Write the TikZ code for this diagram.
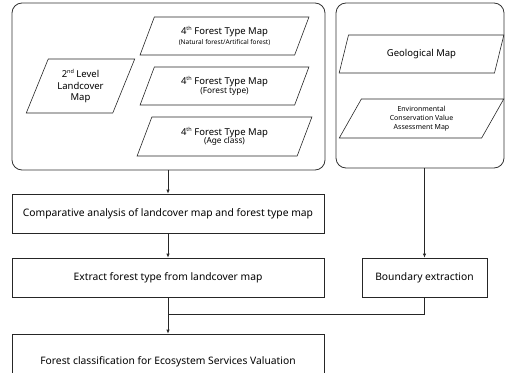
\documentclass[tikz,border=0pt]{standalone}
\usepackage{fontspec}
\setmainfont{Noto Sans}
\usetikzlibrary{shapes.geometric,arrows.meta}
\newcommand{\supx}[1]{\raisebox{0.45em}{\fontsize{5.5}{6}\selectfont #1}}
\tikzset{
  groupbox/.style={draw=black!80, rounded corners=10pt, line width=0.8pt},
  mapbox/.style={draw=black!85, shape=trapezium, trapezium left angle=65,
    trapezium right angle=115, trapezium stretches=true, inner sep=0pt,
    align=center, line width=0.6pt},
  stepbox/.style={draw=black!85, rectangle, inner sep=0pt, align=center, line width=0.7pt,
    font=\fontsize{10.3}{12}\selectfont},
  flow/.style={draw=black!85, line width=0.7pt, -{Latex[length=4pt,width=3.5pt]}}
}
\begin{document}
\begin{tikzpicture}[x=1pt,y=-1pt, font=\fontsize{9.5}{11.5}\selectfont]
  \useasboundingbox (0,0) rectangle (505,372);
  % groups
  \node[groupbox, minimum width=313pt, minimum height=167pt] (landgroup) at (168.5,86.5) {};
  \node[groupbox, minimum width=168pt, minimum height=165pt] (geogroup) at (420,85.5) {};
  % maps
  \node[mapbox, minimum width=109pt, minimum height=54pt] (landcover) at (80.5,86)
    {2\supx{nd} Level\\Landcover\\Map};
  \node[mapbox, minimum width=169pt, minimum height=38pt] (natural) at (224.5,36)
    {4\supx{th} Forest Type Map\\[-1pt]{\fontsize{6.5}{8}\selectfont(Natural forest/Artifical forest)}};
  \node[mapbox, minimum width=169pt, minimum height=38pt] (ftype) at (224.5,86)
    {4\supx{th} Forest Type Map\\[-3pt]{\fontsize{8.3}{10}\selectfont(Forest type)}};
  \node[mapbox, minimum width=175pt, minimum height=39pt] (age) at (224.5,136.5)
    {4\supx{th} Forest Type Map\\[-3pt]{\fontsize{8.3}{10}\selectfont(Age class)}};
  \node[mapbox, minimum width=165pt, minimum height=38pt] (geo) at (421.5,54)
    {Geological Map};
  \node[mapbox, minimum width=165pt, minimum height=39pt, font=\fontsize{7}{9}\selectfont] (env) at (421.5,118.5)
    {Environmental\\Conservation Value\\Assessment Map};
  % steps
  \node[stepbox, minimum width=312pt, minimum height=39pt] (compare) at (168,213.5)
    {Comparative analysis of landcover map and forest type map};
  \node[stepbox, minimum width=312pt, minimum height=39pt] (extract) at (168,277.5)
    {Extract forest type from landcover map};
  \node[stepbox, minimum width=125pt, minimum height=39pt] (boundary) at (424.5,277.5)
    {Boundary extraction};
  \node[stepbox, minimum width=312pt, minimum height=56pt] (classify) at (168,362)
    {Forest classification for Ecosystem Services Valuation};
  \coordinate (join) at (168,314);
  % arrows
  \draw[flow] (landgroup.south -| compare) -- (compare);
  \draw[flow] (compare) -- (extract);
  \draw[flow] (geogroup.south -| boundary) -- (boundary);
  \draw[flow] (extract) -- (classify);
  \draw[draw=black!85, line width=0.7pt] (boundary) |- (join);
\end{tikzpicture}
\end{document}
